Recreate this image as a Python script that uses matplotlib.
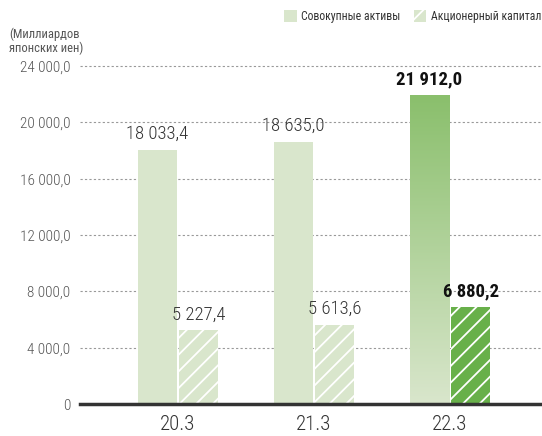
import matplotlib
matplotlib.use("Agg")
import matplotlib.pyplot as plt
import matplotlib.patches as mpatches
import numpy as np
from matplotlib.colors import LinearSegmentedColormap

plt.rcParams.update({
    "font.family": ["Roboto Condensed", "Roboto", "DejaVu Sans"],
    "hatch.linewidth": 1.3,
})

# данные
periods = ["20.3", "21.3", "22.3"]
total_assets = [18033.4, 18635.0, 21912.0]
equity = [5227.4, 5613.6, 6880.2]
y_ticks = [0, 4000, 8000, 12000, 16000, 20000, 24000]

C_LIGHT = "#d9e6cc"
C_DARK_TOP = "#8abf6c"
C_EQ_DARK = "#68b04a"
C_TEXT = "#333333"
C_TICK = "#555555"


def fmt(v):
    if v == 0:
        return "0"
    return f"{v:,.1f}".replace(",", " ").replace(".", ",")


fig = plt.figure(figsize=(5.42, 4.36), dpi=100)
ax = fig.add_axes([80 / 542, 32 / 436, 462 / 542, 338 / 436])

x = np.arange(len(periods))
w = 0.287
gap = 0.008
last = len(periods) - 1

bars_t = ax.bar(x - w / 2 - gap, total_assets, w, color=C_LIGHT,
                linewidth=0, zorder=3)
eq_colors = [C_LIGHT] * last + [C_EQ_DARK]
bars_e = ax.bar(x + w / 2 + gap, equity, w, color=eq_colors,
                edgecolor="white", linewidth=0, hatch="//", zorder=3)

# градиент для последнего столбца
b = bars_t[last]
cmap = LinearSegmentedColormap.from_list("g", [C_LIGHT, C_DARK_TOP])
grad = np.linspace(0, 1, 256).reshape(-1, 1)
im = ax.imshow(grad, cmap=cmap, aspect="auto", origin="lower",
               extent=[b.get_x(), b.get_x() + b.get_width(), 0, b.get_height()],
               zorder=3)
im.set_clip_path(b)
b.set_facecolor("none")

# подписи значений
for bars, vals in ((bars_t, total_assets), (bars_e, equity)):
    for i, v in enumerate(vals):
        ax.annotate(fmt(v), xy=(bars[i].get_x() + w / 2, v), xytext=(0, 5),
                    textcoords="offset points", ha="center", va="bottom",
                    fontsize=13.5, color="#111" if i == last else C_TEXT,
                    fontweight="bold" if i == last else "light")

ax.set_xlim(-0.72, 0.676 + last)
ax.set_ylim(0, 24000)
ax.set_yticks(y_ticks)
ax.set_yticklabels([fmt(t) for t in y_ticks], fontsize=11, color=C_TICK,
                   fontweight="light")
ax.set_xticks(x)
ax.set_xticklabels(periods, fontsize=15, color=C_TEXT, fontweight="light")
ax.tick_params(axis="both", length=0)
ax.tick_params(axis="y", pad=7)
ax.tick_params(axis="x", pad=8)

for sp in ["top", "right", "left", "bottom"]:
    ax.spines[sp].set_visible(False)
for t in y_ticks[1:]:
    ax.axhline(t, color="#999999", linestyle=(0, (2, 2)), linewidth=0.8,
               zorder=1, clip_on=False)
ax.axhline(0, color="#333333", linewidth=2.5, zorder=4, clip_on=False)

fig.text(9 / 542, 1 - 28 / 436, "(Миллиардов\nяпонских иен)", ha="left",
         va="top", fontsize=9, color=C_TICK, linespacing=1.05)

legend = [
    mpatches.Patch(facecolor=C_LIGHT, edgecolor="none",
                   label="Совокупные активы"),
    mpatches.Patch(facecolor=C_LIGHT, edgecolor="white", hatch="//",
                   linewidth=0, label="Акционерный капитал"),
]
fig.legend(handles=legend, loc="upper right",
           bbox_to_anchor=(541 / 542, 1 - 10 / 436), borderaxespad=0,
           borderpad=0, ncol=2, frameon=False, fontsize=8.5,
           handlelength=1.1, handleheight=1.1, handletextpad=0.35,
           columnspacing=1.1, labelcolor=C_TEXT)

fig.savefig("out.png", dpi=100, facecolor="white")
